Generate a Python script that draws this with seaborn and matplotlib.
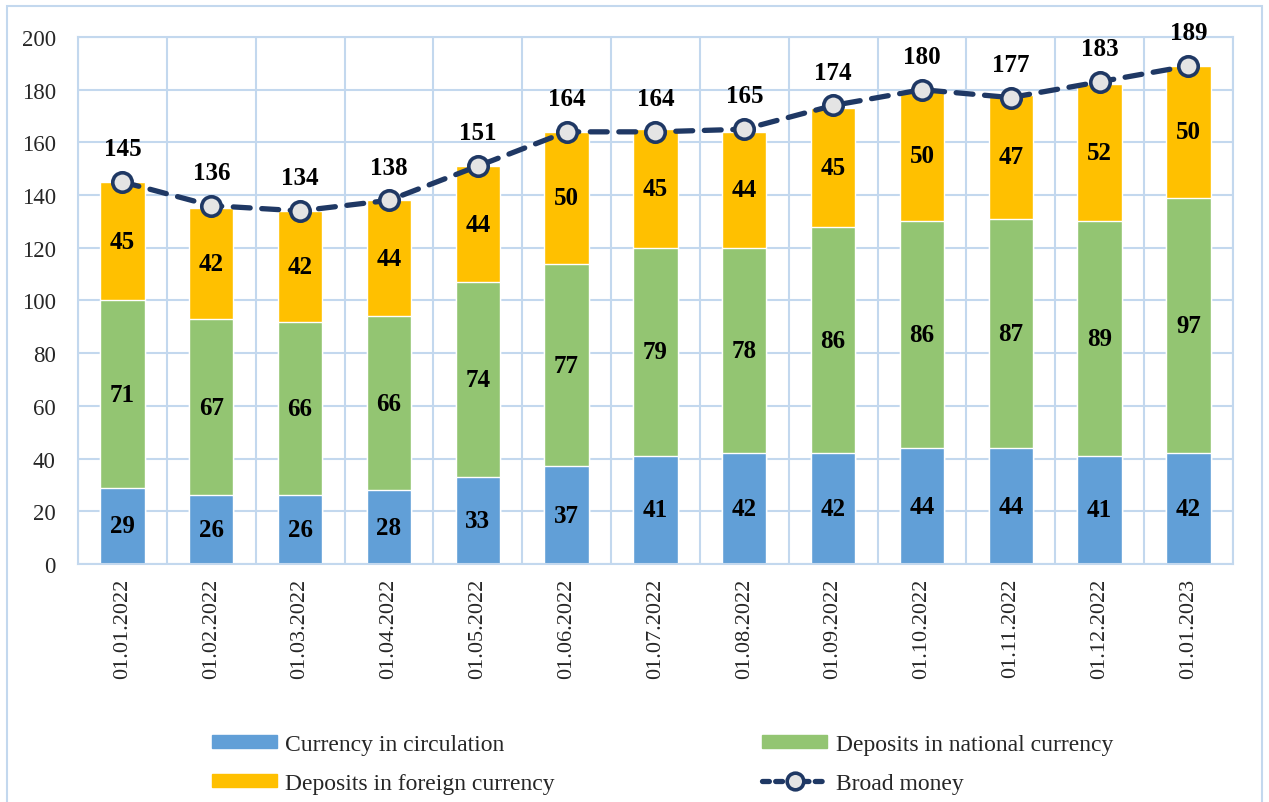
import numpy as np
import pandas as pd
import matplotlib
matplotlib.use("Agg")
import matplotlib.pyplot as plt
from matplotlib.patches import Rectangle
from matplotlib.lines import Line2D
from matplotlib.patches import Patch
import seaborn as sns

dates = ["01.01.2022", "01.02.2022", "01.03.2022", "01.04.2022", "01.05.2022",
         "01.06.2022", "01.07.2022", "01.08.2022", "01.09.2022", "01.10.2022",
         "01.11.2022", "01.12.2022", "01.01.2023"]
currency = [29, 26, 26, 28, 33, 37, 41, 42, 42, 44, 44, 41, 42]
dep_national = [71, 67, 66, 66, 74, 77, 79, 78, 86, 86, 87, 89, 97]
dep_foreign = [45, 42, 42, 44, 44, 50, 45, 44, 45, 50, 47, 52, 50]
broad_money = [145, 136, 134, 138, 151, 164, 164, 165, 174, 180, 177, 183, 189]

c_blue = "#619FD7"
c_green = "#93C572"
c_orange = "#FFC000"
c_navy = "#1F3864"
c_grid = "#C3D8EE"

sns.set_style("white")
plt.rcParams["font.family"] = ["Liberation Serif", "DejaVu Serif"]

df = pd.DataFrame({"date": dates, "cur": currency, "nat": dep_national,
                   "for": dep_foreign, "broad": broad_money})
df["lvl1"] = df["cur"]
df["lvl2"] = df["cur"] + df["nat"]
df["lvl3"] = df["lvl2"] + df["for"]

fig = plt.figure(figsize=(12.69, 8.03), dpi=100)
ax = fig.add_axes([0.0615, 0.2964, 0.91, 0.6563])

# stacked bars drawn from the top level down
sns.barplot(data=df, x="date", y="lvl3", color=c_orange, saturation=1, width=0.5, ax=ax, zorder=2)
sns.barplot(data=df, x="date", y="lvl2", color=c_green, saturation=1, width=0.5, ax=ax, zorder=2)
sns.barplot(data=df, x="date", y="lvl1", color=c_blue, saturation=1, width=0.5, ax=ax, zorder=2)

xs = np.arange(len(dates))
ax.plot(xs, df["broad"], color=c_navy, lw=3.8, ls=(0, (3.2, 2.2)), dash_capstyle="round",
        marker="o", ms=14, mfc="#E4E4E4", mec=c_navy, mew=2.6, zorder=4)

lab_kw = dict(ha="center", va="center", fontsize=18, fontweight="bold", color="black", zorder=5)
for i in range(len(dates)):
    ax.text(i, df["cur"][i] / 2, str(df["cur"][i]), **lab_kw)
    ax.text(i, df["lvl1"][i] + df["nat"][i] / 2, str(df["nat"][i]), **lab_kw)
    ax.text(i, df["lvl2"][i] + df["for"][i] / 2, str(df["for"][i]), **lab_kw)
    ax.annotate(str(df["broad"][i]), (i, df["broad"][i]), xytext=(0, 24),
                textcoords="offset points", **lab_kw)

ax.set_xlim(-0.5, len(dates) - 0.5)
ax.set_ylim(0, 200)
ax.set_yticks(range(0, 201, 20))
ax.set_xticks(np.arange(-0.5, len(dates), 1), minor=True)
ax.grid(axis="y", which="major", color=c_grid, lw=1.5, zorder=0)
ax.grid(axis="x", which="minor", color=c_grid, lw=1.5, zorder=0)
ax.grid(axis="x", which="major", visible=False)
ax.set_axisbelow(True)
for s in ax.spines.values():
    s.set_color(c_grid)
    s.set_linewidth(1.5)
ax.tick_params(axis="x", which="major", length=0, labelsize=16, rotation=90, pad=10)
ax.tick_params(axis="x", which="minor", length=6, color=c_grid, width=1.5)
ax.tick_params(axis="y", length=0, labelsize=16.5, pad=16)
ax.set_xlabel("")
ax.set_ylabel("")

handles = [Patch(color=c_blue), Patch(color=c_orange), Patch(color=c_green),
           Line2D([0], [0], color=c_navy, lw=3.8, ls=(0, (1.3, 1.2)), dash_capstyle="round",
                  marker="o", ms=12, mfc="#E4E4E4", mec=c_navy, mew=2.6)]
labels = ["Currency in circulation", "Deposits in foreign currency",
          "Deposits in national currency", "Broad money"]
fig.legend(handles, labels, ncol=2, loc="center", bbox_to_anchor=(0.522, 0.0475),
           frameon=False, fontsize=17, handlelength=2.75, handleheight=0.5,
           columnspacing=8.8, handletextpad=0.35, labelspacing=0.75)

fig.patches.append(Rectangle((7 / 1269, -0.05), (1262 - 7) / 1269, 1.05 - 7 / 803,
                             transform=fig.transFigure, fill=False, ec=c_grid, lw=1.5))

fig.savefig("out.png", dpi=100)
